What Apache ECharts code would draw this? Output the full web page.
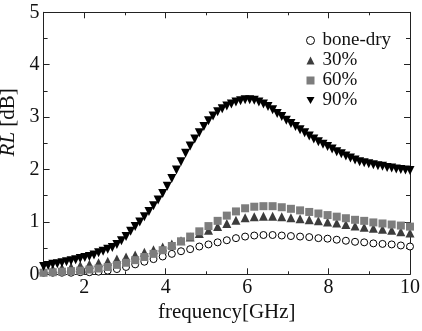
<!DOCTYPE html>
<html>
<head>
<meta charset="utf-8">
<title>RL</title>
<script src="https://cdn.jsdelivr.net/npm/echarts@6/dist/echarts.min.js"></script>
</head>
<body style="margin:0">
<div id="main" style="width:422px;height:331px;"></div>
<script type="text/javascript">
// frequency grid of the three sparse series (GHz)
var freqA = [1, 1.225, 1.45, 1.675, 1.9, 2.125, 2.35, 2.575, 2.8, 3.025,
    3.25, 3.475, 3.7, 3.925, 4.15, 4.375, 4.6, 4.825, 5.05, 5.275,
    5.5, 5.725, 5.95, 6.175, 6.4, 6.625, 6.85, 7.075, 7.3, 7.525,
    7.75, 7.975, 8.2, 8.425, 8.65, 8.875, 9.1, 9.325, 9.55, 9.775, 10];
// frequency grid of the dense 90% series (GHz)
var freqB = [1, 1.1125, 1.225, 1.3375, 1.45, 1.5625, 1.675, 1.7875, 1.9, 2.0125,
    2.125, 2.2375, 2.35, 2.4625, 2.575, 2.6875, 2.8, 2.9125, 3.025, 3.1375,
    3.25, 3.3625, 3.475, 3.5875, 3.7, 3.8125, 3.925, 4.0375, 4.15, 4.2625,
    4.375, 4.4875, 4.6, 4.7125, 4.825, 4.9375, 5.05, 5.1625, 5.275, 5.3875,
    5.5, 5.6125, 5.725, 5.8375, 5.95, 6.0625, 6.175, 6.2875, 6.4, 6.5125,
    6.625, 6.7375, 6.85, 6.9625, 7.075, 7.1875, 7.3, 7.4125, 7.525, 7.6375,
    7.75, 7.8625, 7.975, 8.0875, 8.2, 8.3125, 8.425, 8.5375, 8.65, 8.7625,
    8.875, 8.9875, 9.1, 9.2125, 9.325, 9.4375, 9.55, 9.6625, 9.775, 9.8875, 10];

var rlDry = [0.03, 0.03, 0.03, 0.03, 0.04, 0.04, 0.05, 0.07, 0.10, 0.14,
    0.19, 0.24, 0.29, 0.34, 0.39, 0.44, 0.48, 0.53, 0.57, 0.61,
    0.65, 0.69, 0.72, 0.74, 0.75, 0.75, 0.74, 0.73, 0.72, 0.71,
    0.69, 0.68, 0.66, 0.64, 0.62, 0.61, 0.59, 0.58, 0.57, 0.55, 0.53];
var rl30 = [0.08, 0.10, 0.12, 0.14, 0.17, 0.19, 0.22, 0.25, 0.29, 0.33,
    0.37, 0.42, 0.47, 0.52, 0.58, 0.64, 0.71, 0.78, 0.84, 0.91,
    0.97, 1.03, 1.08, 1.10, 1.11, 1.11, 1.10, 1.08, 1.06, 1.04,
    1.02, 1.00, 0.98, 0.95, 0.92, 0.90, 0.88, 0.86, 0.84, 0.81, 0.79];
var rl60 = [0.03, 0.04, 0.05, 0.06, 0.07, 0.09, 0.11, 0.14, 0.18, 0.22,
    0.27, 0.33, 0.39, 0.46, 0.54, 0.63, 0.72, 0.82, 0.92, 1.02,
    1.12, 1.20, 1.26, 1.29, 1.30, 1.30, 1.28, 1.25, 1.22, 1.19,
    1.16, 1.13, 1.10, 1.07, 1.04, 1.02, 0.99, 0.97, 0.95, 0.93, 0.91];
var rl90 = [0.15, 0.17, 0.19, 0.20, 0.22, 0.24, 0.26, 0.28, 0.30, 0.32,
    0.34, 0.37, 0.41, 0.44, 0.48, 0.51, 0.57, 0.64, 0.72, 0.82,
    0.91, 1.00, 1.10, 1.20, 1.31, 1.42, 1.54, 1.68, 1.83, 1.99,
    2.15, 2.31, 2.45, 2.58, 2.70, 2.82, 2.93, 3.02, 3.10, 3.16,
    3.21, 3.25, 3.29, 3.31, 3.33, 3.33, 3.32, 3.29, 3.25, 3.20,
    3.14, 3.07, 3.01, 2.94, 2.88, 2.82, 2.76, 2.70, 2.64, 2.58,
    2.53, 2.48, 2.44, 2.39, 2.34, 2.30, 2.26, 2.22, 2.18, 2.15,
    2.13, 2.11, 2.09, 2.07, 2.06, 2.04, 2.03, 2.01, 2.00, 1.99, 1.98];

var xMajor = [2, 4, 6, 8, 10];
var xMinor = [3, 5, 7, 9];

function pairs(xs, ys) {
    var out = [];
    for (var i = 0; i < xs.length; i++) out.push([xs[i], ys[i]]);
    return out;
}

var font = '"Liberation Serif", "Times New Roman", serif';
var axisCol = '#222';

function xAx(pos, ticks, len, labels, line) {
    return {
        type: 'value', position: pos, min: 1, max: 10, offset: 0,
        axisLine: {show: line, lineStyle: {color: axisCol, width: 1}},
        axisTick: {show: true, inside: true, length: len, customValues: ticks,
            lineStyle: {color: axisCol}},
        axisLabel: labels ? {show: true, customValues: ticks, margin: 3,
            fontFamily: font, fontSize: 20, color: '#111'} : {show: false},
        splitLine: {show: false}
    };
}
function yAx(pos, labels) {
    return {
        type: 'value', position: pos, min: 0, max: 5, interval: 1,
        axisLine: {show: true, lineStyle: {color: axisCol, width: 1}},
        axisTick: {show: true, inside: true, length: 6, lineStyle: {color: axisCol}},
        minorTick: {show: true, splitNumber: 2, length: 4, lineStyle: {color: axisCol}},
        axisLabel: {show: labels, margin: 4, fontFamily: font, fontSize: 20, color: '#111'},
        splitLine: {show: false}
    };
}

var xBottom = xAx('bottom', xMajor, 6, true, true);
xBottom.name = 'frequency[GHz]';
xBottom.nameLocation = 'middle';
xBottom.nameGap = 28;
xBottom.nameTextStyle = {fontFamily: font, fontSize: 21, color: '#111'};

var yLeft = yAx('left', true);
yLeft.name = '{i|RL} [dB]';
yLeft.nameLocation = 'middle';
yLeft.nameGap = 16;
yLeft.nameTextStyle = {fontFamily: font, fontSize: 21, color: '#111',
    padding: [0, 0, 0, 42],
    rich: {i: {fontFamily: font, fontStyle: 'italic', fontSize: 21, color: '#111'}}};

var myChart = echarts.init(document.getElementById('main'));
var option = {
    animation: false,
    backgroundColor: '#fff',
    grid: {left: 43.6, right: 12, top: 12.3, bottom: 56.7, outerBoundsMode: 'none', containLabel: false},
    legend: {
        orient: 'vertical', left: 301, top: 26, itemWidth: 8, itemHeight: 8, itemGap: 1,
        textStyle: {fontFamily: font, fontSize: 19, color: '#111', padding: [0, 0, 0, 3]},
        data: [
            {name: 'bone-dry', icon: 'circle', itemStyle: {borderWidth: 1}},
            {name: '30%', icon: 'triangle'},
            {name: '60%', icon: 'rect'},
            {name: '90%', icon: 'path://M0,0L10,0L5,9Z'}
        ]
    },
    xAxis: [
        xBottom,
        xAx('bottom', xMinor, 3, false, false),
        xAx('top', xMajor, 6, false, true),
        xAx('top', xMinor, 3, false, false)
    ],
    yAxis: [yLeft, yAx('right', false)],
    series: [
        {name: 'bone-dry', type: 'scatter', symbol: 'circle', symbolSize: 7,
            itemStyle: {color: '#fff', borderColor: '#000', borderWidth: 1, opacity: 1},
            data: pairs(freqA, rlDry)},
        {name: '30%', type: 'scatter', symbol: 'triangle', symbolSize: 9,
            itemStyle: {color: '#3c3c3c', opacity: 1},
            data: pairs(freqA, rl30)},
        {name: '60%', type: 'scatter', symbol: 'rect', symbolSize: 8,
            itemStyle: {color: '#7d7d7d', opacity: 1},
            data: pairs(freqA, rl60)},
        {name: '90%', type: 'scatter', symbol: 'triangle', symbolRotate: 180, symbolSize: 9,
            itemStyle: {color: '#000', opacity: 1},
            data: pairs(freqB, rl90)}
    ]
};
myChart.setOption(option);
</script>
</body>
</html>
